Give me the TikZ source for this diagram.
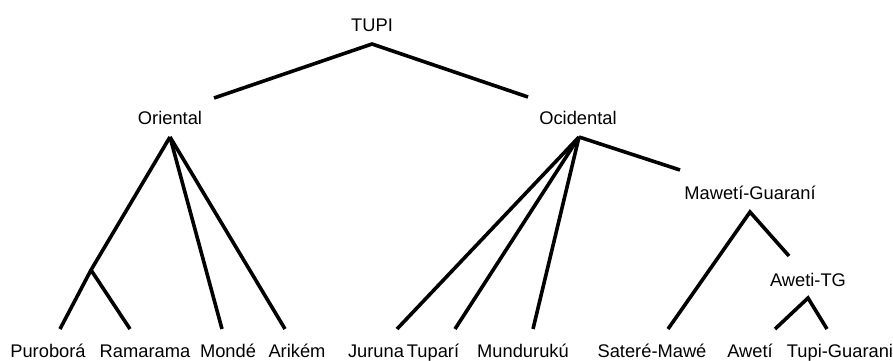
\documentclass[tikz,border=0pt]{standalone}
\usepackage{fontspec}
\setmainfont{Liberation Sans}
\usepackage{tikz}
\tikzset{
    lang/.style={
                anchor=base,
                inner sep=0pt,
                font=\fontsize{18.3}{20}\selectfont
            },
        branch/.style={
                line width=3.6pt
            },
}

\begin{document}
\begin{tikzpicture}[x=1pt,y=-1pt]
  \useasboundingbox (0,0) rectangle (893,360);
  % Root
  \node[lang] (tupi) at (372,31) {TUPI};
  \coordinate (tupi-a) at (372,44);
  % Branches
  \node[lang] (oriental) at (170,124) {Oriental};
  \coordinate (oriental-a) at (170,137);
  \coordinate (oriental-e) at (214,98);
  \node[lang] (ocidental) at (578,124) {Ocidental};
  \coordinate (ocidental-a) at (579,137);
  \coordinate (ocidental-e) at (528,97);
  \node[lang] (maweti) at (750,199) {Mawetí-Guaraní};
  \coordinate (maweti-a) at (750,212);
  \coordinate (maweti-e) at (680,170);
  \node[lang] (awetitg) at (808,286) {Aweti-TG};
  \coordinate (awetitg-a) at (808,298);
  \coordinate (awetitg-e) at (789,256);
  \coordinate (junction) at (91,270);
  % Leaves
  \node[lang] (puro) at (48,357.5) {Puroborá};
  \node[lang] (rama) at (145,357.5) {Ramarama};
  \node[lang] (monde) at (228,357.5) {Mondé};
  \node[lang] (arikem) at (297,357.5) {Arikém};
  \node[lang] (juruna) at (376,357.5) {Juruna};
  \node[lang] (tupari) at (433,357.5) {Tuparí};
  \node[lang] (mundu) at (523,357.5) {Mundurukú};
  \node[lang] (satere) at (652,357.5) {Sateré-Mawé};
  \node[lang] (aweti) at (750,357.5) {Awetí};
  \node[lang] (tupig) at (840,357.5) {Tupi-Guarani};
  \foreach \leaf/\x in {puro/60,rama/130,monde/222,arikem/285,juruna/397,tupari/455,mundu/533,satere/668,aweti/775,tupig/827}
    \coordinate (\leaf-e) at (\x,329);
  % Connectors
  \draw[branch] (oriental-e) -- (tupi-a) -- (ocidental-e);
  \draw[branch] (oriental-a) -- (junction) -- (puro-e);
  \draw[branch] (junction) -- (rama-e);
  \draw[branch] (oriental-a) -- (monde-e);
  \draw[branch] (oriental-a) -- (arikem-e);
  \draw[branch] (ocidental-a) -- (juruna-e);
  \draw[branch] (ocidental-a) -- (tupari-e);
  \draw[branch] (ocidental-a) -- (mundu-e);
  \draw[branch] (ocidental-a) -- (maweti-e);
  \draw[branch] (satere-e) -- (maweti-a) -- (awetitg-e);
  \draw[branch] (aweti-e) -- (awetitg-a) -- (tupig-e);
\end{tikzpicture}
\end{document}
